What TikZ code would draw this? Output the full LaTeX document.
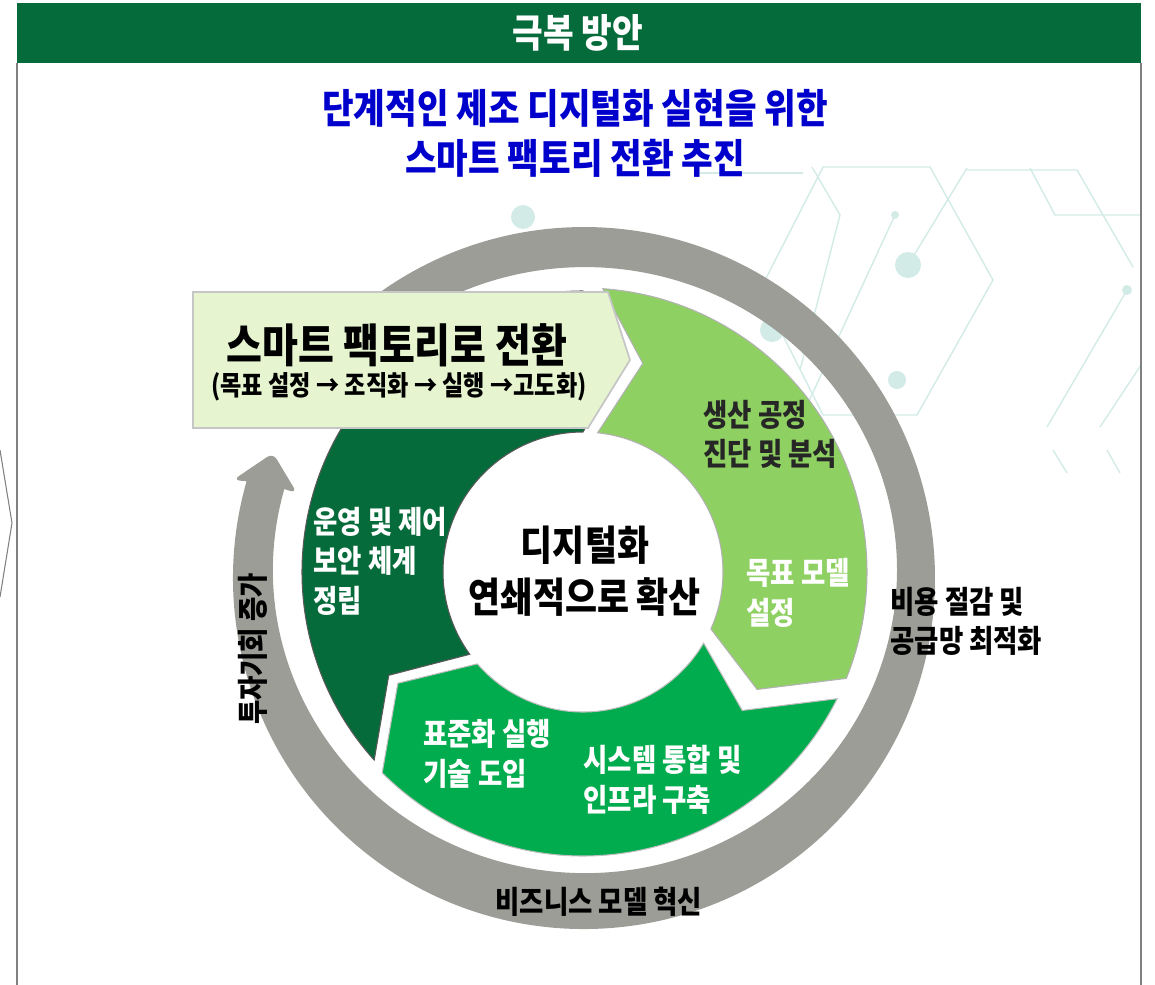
\documentclass[tikz,border=0pt]{standalone}
\usepackage{fontspec}
\setmainfont{Noto Sans CJK KR}[FakeStretch=0.85]
\usepackage{tikz}
\usetikzlibrary{calc}
\definecolor{hdrgreen}{HTML}{066B3A}
\definecolor{dkgreen}{HTML}{066B3A}
\definecolor{midgreen}{HTML}{00AC4E}
\definecolor{ltgreen}{HTML}{8FD062}
\definecolor{boxfill}{HTML}{E6F5D0}
\definecolor{ringgray}{HTML}{9D9D98}
\definecolor{titleblue}{HTML}{0000CC}
\definecolor{patgreen}{HTML}{D2EBE6}
\definecolor{txtdark}{HTML}{262626}

\begin{document}
\begin{tikzpicture}[
			x=0.02cm, y=0.02cm,
			every node/.style={inner sep=0pt, font=\bfseries},
			lbl/.style={anchor=west, align=left, font=\bfseries\fontsize{17.7}{22.5}\selectfont},
			pat/.style={draw=patgreen, line width=0.8pt},
			seg/.style={line width=0.6pt}
			]

			\useasboundingbox (0,0) rectangle (1155,-984);

			\begin{scope}
				\clip (480,-165) rectangle (1141,-475);
				\draw[pat] (700,-173) -- (803,-173);
				\draw[pat] (812,-167) -- (840,-215) -- (800,-370);
				\draw[pat] (823,-167) -- (930,-167) -- (993,-280) -- (917,-415) -- (823,-415) -- (760,-290) -- cycle;
				\draw[pat] (967,-170) -- (1077,-170) -- (1133,-267);
				\draw[pat] (1030,-168) -- (1055,-215) -- (1141,-215);
				\draw[pat] (895,-215) -- (797,-427);
				\draw[pat] (908,-265) -- (967,-168);
				\draw[pat] (1127,-290) -- (1047,-427);
				\draw[pat] (1141,-365) -- (1100,-427);
				\draw[pat] (1053,-450) -- (1067,-473);
				\draw[pat] (1107,-450) -- (1120,-473);
				\fill[patgreen] (895,-215) circle (4) (908,-265) circle (13) (897,-380) circle (9)
					(772,-330) circle (12) (1127,-290) circle (5) (523,-217) circle (12);
			\end{scope}

			\fill[hdrgreen] (17,-3) rectangle (1141,-63);
			\node[white, font=\bfseries\fontsize{22.3}{26}\selectfont] (hdr) at (578,-33) {극복 방안};
			\draw[gray, line width=0.8pt] (17,-63) -- (17,-990);
			\draw[gray, line width=0.8pt] (1141,-63) -- (1141,-990);
			\draw[gray, line width=0.6pt] (0,-450) -- (12,-523) -- (0,-597);

			\node[titleblue, align=center, font=\bfseries\fontsize{23}{28.5}\selectfont] (title) at (575,-133)
				{단계적인 제조 디지털화 실현을 위한\\스마트 팩토리 전환 추진};

			\fill[ringgray] (315.1,-352.4) arc[start angle=140, end angle=-196, radius=351]
				[rounded corners=4pt] -- (233,-480) -- (273,-453) -- (297,-493) [sharp corners]
				-- (284.3,-489.1) arc[start angle=-195.5, end angle=140, x radius=312, y radius=303] -- cycle;

			\begin{scope}[shift={(583,-572)}]
				\filldraw[seg, fill=ltgreen, draw=gray!60] (86:284) arc[start angle=86, end angle=-22, radius=284]
					-- (-34:210) -- (-24:140) arc[start angle=-24, end angle=84, radius=140] -- (74:217) -- cycle;
				\filldraw[seg, fill=midgreen, draw=gray!50] (-26.5:284) arc[start angle=-26.5, end angle=-135, radius=284]
					-- (-149:216) -- (-139:140) arc[start angle=-139, end angle=-30.5, radius=140] -- (-41:211) -- cycle;
				\filldraw[seg, fill=dkgreen, draw=black!65] (222:281) arc[start angle=222, end angle=90, radius=281]
					-- (79:212) -- (90:140) arc[start angle=90, end angle=216, radius=140] -- (208:220) -- cycle;
			\end{scope}

			\filldraw[fill=boxfill, draw=gray!45, line width=1pt] (193,-292) -- (608,-292) -- (630,-360) -- (588,-428) -- (193,-428) -- cycle;
			\node[font=\bfseries\fontsize{26.1}{30}\selectfont] (sfTitle) at (397,-345) {스마트 팩토리로 전환};
			\node[font=\bfseries\fontsize{15.5}{18}\selectfont] (sfSteps) at (399,-387) {(목표 설정 → 조직화 → 실행 →고도화)};

			\node[align=center, font=\bfseries\fontsize{23.3}{29.6}\selectfont] (core) at (585,-571) {디지털화\\연쇄적으로 확산};

			\node[lbl, txtdark] (diag) at (703,-434.5) {생산 공정\\진단 및 분석};
			\node[lbl, white] (target) at (746,-593) {목표 모델\\설정};
			\node[lbl] (cost) at (890,-621.5) {비용 절감 및\\공급망 최적화};
			\node[lbl, white] (ops) at (313,-561) {운영 및 제어\\보안 체계\\정립};
			\node[lbl, white] (std) at (423,-754) {표준화 실행\\기술 도입};
			\node[lbl, white] (infra) at (583,-780) {시스템 통합 및\\인프라 구축};
			\node[font=\bfseries\fontsize{17.7}{20}\selectfont] (bizmodel) at (599,-902) {비즈니스 모델 혁신};
			\node[rotate=90, font=\bfseries\fontsize{17.7}{20}\selectfont] (invest) at (253,-649) {투자기회 증가};

			\end{tikzpicture}
\end{document}
